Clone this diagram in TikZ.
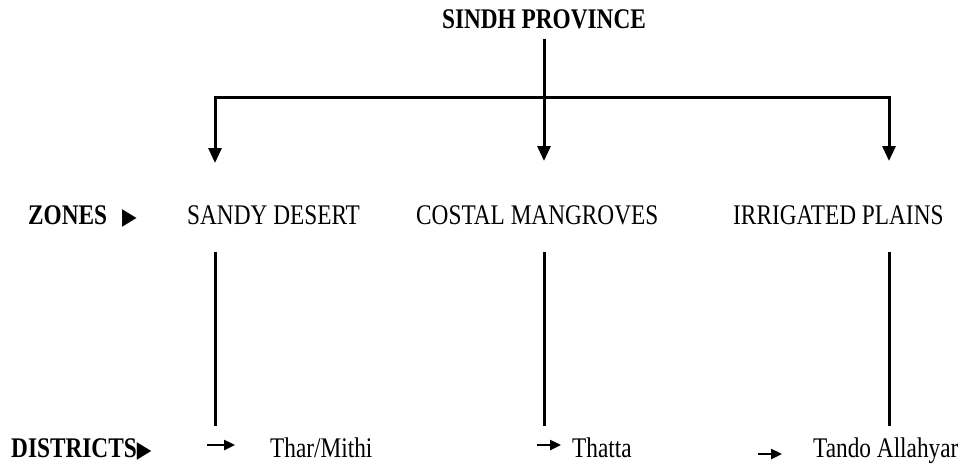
\documentclass[tikz,border=0pt]{standalone}
\usepackage{fontspec}
\setmainfont{Liberation Serif}
\newfontfamily\symfont{DejaVu Sans}
\usetikzlibrary{arrows.meta,positioning}

% tall, narrow lettering as in the scan
\newcommand{\tallbox}[1]{\scalebox{1}[1.22]{#1}}

\begin{document}
\begin{tikzpicture}[x=1pt,y=-1pt,
	zonetext/.style={inner sep=0pt,anchor=base west,font=\fontsize{23.3}{26}\selectfont},
	rowtext/.style={inner sep=0pt,anchor=base west,font=\fontsize{23.3}{26}\selectfont\bfseries},
	link/.style={line width=3pt},
	downlink/.style={link,-{Triangle[length=15pt,width=13pt]}},
	pointer/.style={line width=2.4pt,-{Triangle[length=11pt,width=10pt]}}]
	\useasboundingbox (0,0) rectangle (962,472);

	% heading and rows
	\node[rowtext,anchor=base] (sindh) at (544,28) {\tallbox{SINDH PROVINCE}};
	\node[rowtext] (zones) at (28,224) {\tallbox{ZONES\hspace{15pt}{\symfont\fontsize{19}{20}\selectfont ▶}}};
	\node[rowtext] (districts) at (11,457) {\tallbox{DISTRICTS{\symfont\fontsize{19}{20}\selectfont ▶}}};

	\node[zonetext] (sandy) at (187,224) {\tallbox{SANDY DESERT}};
	\node[zonetext] (costal) at (416,224) {\tallbox{COSTAL MANGROVES}};
	\node[zonetext] (plains) at (733,224) {\tallbox{IRRIGATED PLAINS}};

	\node[zonetext] (thar) at (270,457) {\tallbox{Thar/Mithi}};
	\node[zonetext] (thatta) at (572,457) {\tallbox{Thatta}};
	\node[zonetext] (tando) at (813,457) {\tallbox{Tando Allahyar}};

	% tree
	\coordinate (hub) at (544,97);
	\coordinate (tipL) at (215,163);
	\coordinate (tipM) at (544,161);
	\coordinate (tipR) at (889,161);
	\draw[link,shorten <=10pt] (sindh) -- (hub);
	\draw[downlink] (hub) -| (tipL);
	\draw[downlink] (hub) -- (tipM);
	\draw[downlink] (hub) -| (tipR);

	% zone to district lines
	\foreach \x/\n in {215/L,544/M,889/R}
	{
		\coordinate (top\n) at (\x,252);
		\coordinate (bot\n) at (\x,426);
		\draw[link] (top\n) -- (bot\n);
	}

	% district pointers
	\coordinate (ptrLa) at (207,445);
	\coordinate (ptrLb) at (235,445);
	\coordinate (ptrMa) at (537,445);
	\coordinate (ptrMb) at (561,445);
	\coordinate (ptrRa) at (758,454);
	\coordinate (ptrRb) at (782,454);
	\foreach \n in {L,M,R}
		\draw[pointer] (ptr\n a) -- (ptr\n b);
\end{tikzpicture}
\end{document}
